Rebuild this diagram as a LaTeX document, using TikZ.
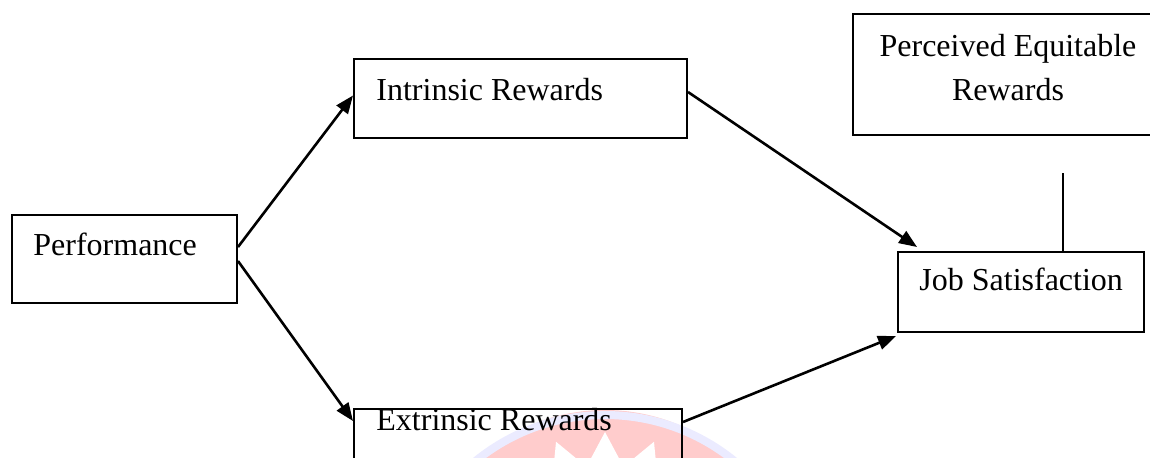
\documentclass[tikz,border=0pt]{standalone}
\usepackage{fontspec}
\setmainfont{Liberation Serif}
\usetikzlibrary{calc,positioning,arrows.meta}
\tikzset{
  box/.style={
    draw,
    line width=1pt,
    inner sep=0pt,
    shape=rectangle
  },
  lbl/.style={
    inner sep=0pt,
    font=\fontsize{16}{22}\selectfont
  },
  arr/.style={
    line width=1.3pt,
    -{Triangle[length=9pt,width=7pt]}
  },
}
\begin{document}
\begin{tikzpicture}[x=0.5pt,y=-0.5pt]
    \useasboundingbox (0,0) rectangle (1150,457);
    \clip (0,0) rectangle (1150,457);
    % faint watermark
    \fill[red!20] (605,600) circle (190);
    \draw[blue!8,line width=4pt] (605,620) circle (205);
    \fill[white] (605,560) \foreach \a in {0,22.5,...,337.5}{
      -- ($(605,560)+(\a:128)$) -- ($(605,560)+(\a+11.25:95)$)} -- cycle;
    % boxes
    \node[box,minimum width=112.5pt,minimum height=44pt] (perf) at (124.5,259) {};
    \node[box,minimum width=166.5pt,minimum height=39.5pt] (intr) at (520.5,98.5) {};
    \node[box,minimum width=164pt,minimum height=40pt] (extr) at (518,449) {};
    \node[box,minimum width=155pt,minimum height=60.5pt] (perc) at (1008,74.5) {};
    \node[box,minimum width=123pt,minimum height=40pt] (job) at (1021,292) {};
    % texts
    \node[lbl,anchor=base west] (perftxt) at (33,255) {Performance};
    \node[lbl,anchor=base west] (intrtxt) at (376,100) {Intrinsic Rewards};
    \node[lbl,anchor=base west] (extrtxt) at (376,430) {Extrinsic Rewards};
    \node[lbl,align=center] (perctxt) at (1008,68) {Perceived Equitable\\Rewards};
    \node[lbl,anchor=base west] (jobtxt) at (919,290) {Job Satisfaction};
    % connectors
    \draw[arr] ($(perf.east)+(0,-12)$) -- ($(intr.west)+(0,-3)$);
    \draw[arr] ($(perf.east)+(0,2)$) -- ($(extr.north west)+(0,13)$);
    \draw[arr] ($(intr.east)+(0,-6.5)$) -- ($(job.north west)+(20,-4)$);
    \draw[arr] ($(extr.north east)+(0,14)$) -- ($(job.south west)+(-1,3)$);
    \coordinate (eqend) at (1063,173);
    \draw[line width=1.1pt] (eqend) -- (eqend |- job.north);
\end{tikzpicture}
\end{document}
